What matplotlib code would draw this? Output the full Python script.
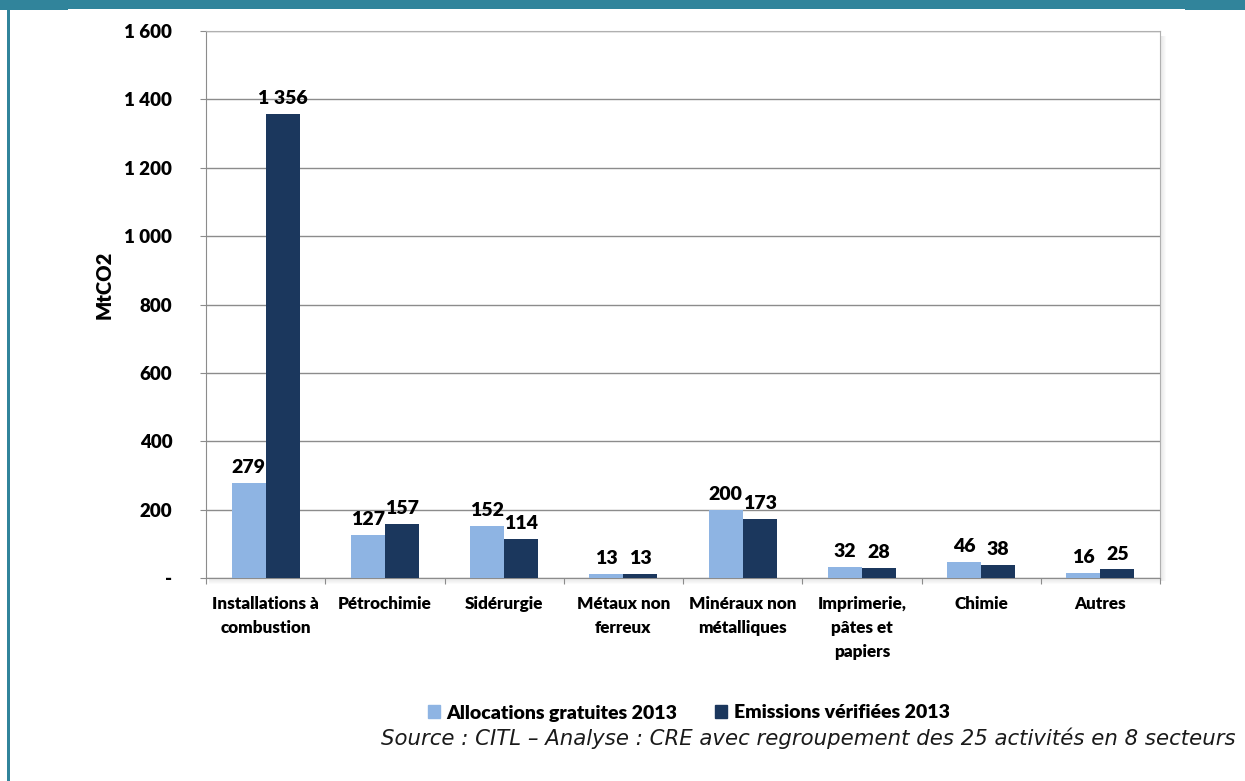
import matplotlib
matplotlib.use('Agg')
import matplotlib.pyplot as plt
import numpy as np
from matplotlib.patches import Rectangle

# sectors and values (MtCO2)
categories = ['Installations à\ncombustion', 'Pétrochimie', 'Sidérurgie', 'Métaux non\nferreux',
              'Minéraux non\nmétalliques', 'Imprimerie,\npâtes et\npapiers', 'Chimie', 'Autres']
allocations = [279, 127, 152, 13, 200, 32, 46, 16]
emissions = [1356, 157, 114, 13, 173, 28, 38, 25]
series_names = ['Allocations gratuites 2013', 'Emissions vérifiées 2013']
y_ticks = [0, 200, 400, 600, 800, 1000, 1200, 1400, 1600]


def fmt(v):
    # thousands separated by a space, zero shown as a dash
    if v == 0:
        return '-'
    return '{:,}'.format(v).replace(',', ' ')


light = '#8EB4E3'
dark = '#1B375D'
teal = '#31849B'
grid_col = '#8C8C8C'
font = 'Lato'
wt = 'heavy'

fig = plt.figure(figsize=(12.45, 7.81), dpi=100)
W, H = 1245, 781

# frame lines around the figure
fig.add_artist(Rectangle((0, 1 - 9 / H), 1, 9 / H, transform=fig.transFigure, color=teal, lw=0))
fig.add_artist(Rectangle((0, 1 - 10 / H), 68 / W, 1 / H, transform=fig.transFigure, color=teal, lw=0))
fig.add_artist(Rectangle((1185 / W, 1 - 10 / H), 60 / W, 1 / H, transform=fig.transFigure, color=teal, lw=0))
fig.add_artist(Rectangle((7 / W, 0), 2.5 / W, 1, transform=fig.transFigure, color=teal, lw=0))

# plot area
left, right, top, bottom = 206, 1160, 31, 578
ax = fig.add_axes([left / W, 1 - bottom / H, (right - left) / W, (bottom - top) / H])

# soft drop shadow on the right and bottom of the plot area
for k in range(6):
    a = 0.10 * (1 - k / 6)
    fig.add_artist(Rectangle(((right + k) / W, 1 - (bottom + 3) / H), 1 / W, (bottom - top - 2) / H,
                             transform=fig.transFigure, color='black', alpha=a, lw=0, zorder=0))
    fig.add_artist(Rectangle(((left + 3) / W, 1 - (bottom + k + 1) / H), (right - left - 2) / W, 1 / H,
                             transform=fig.transFigure, color='black', alpha=a, lw=0, zorder=0))

x = np.arange(len(categories))
w = 0.285
b1 = ax.bar(x - w / 2, allocations, w, color=light, label=series_names[0], zorder=3)
b2 = ax.bar(x + w / 2, emissions, w, color=dark, label=series_names[1], zorder=3)

for bars, vals in ((b1, allocations), (b2, emissions)):
    for r, v in zip(bars, vals):
        ax.annotate(fmt(v), (r.get_x() + r.get_width() / 2, v), xytext=(0, 5), textcoords='offset points',
                    ha='center', va='bottom', fontsize=14, fontweight=wt, family=font, color='black')

ax.set_xlim(-0.5, len(categories) - 0.5)
ax.set_ylim(0, 1600)
ax.set_yticks(y_ticks)
ax.set_yticklabels([fmt(v) for v in y_ticks], fontsize=13.5, fontweight=wt, family=font)
ax.yaxis.grid(True, color=grid_col, lw=1)
ax.set_axisbelow(True)
ax.tick_params(axis='y', length=4.3, color=grid_col, pad=20)

# x ticks sit between groups, labels are centred under each group
ax.set_xticks(np.arange(len(categories) + 1) - 0.5)
ax.set_xticklabels([])
ax.set_xticks(x, minor=True)
ax.set_xticklabels(categories, minor=True, fontsize=12.3, fontweight=wt, family=font,
                   linespacing=1.6, va='top')
ax.tick_params(axis='x', which='major', length=4.3, color=grid_col)
ax.tick_params(axis='x', which='minor', length=0, pad=13)

for s in ['top', 'right']:
    ax.spines[s].set_color('#B0B0B0')
for s in ['left', 'bottom']:
    ax.spines[s].set_color(grid_col)

ax.set_ylabel('MtCO2', fontsize=14.5, fontweight=wt, family=font)
ax.yaxis.set_label_coords(-0.097, 0.536)

handles = [Rectangle((0, 0), 1, 1, color=light), Rectangle((0, 0), 1, 1, color=dark)]
fig.legend(handles, series_names, loc='center', bbox_to_anchor=(689 / W, 1 - 713 / H), ncol=2,
           frameon=False, prop={'family': font, 'weight': wt, 'size': 14},
           handlelength=0.6, handleheight=0.6, handletextpad=0.35, columnspacing=1.95)

fig.text(1236 / W, 1 - 738 / H, 'Source : CITL – Analyse : CRE avec regroupement des 25 activités en 8 secteurs',
         ha='right', va='center', fontsize=15.3, style='italic', family='DejaVu Sans', color='#1A1A1A')

fig.savefig('out.png', dpi=100)
